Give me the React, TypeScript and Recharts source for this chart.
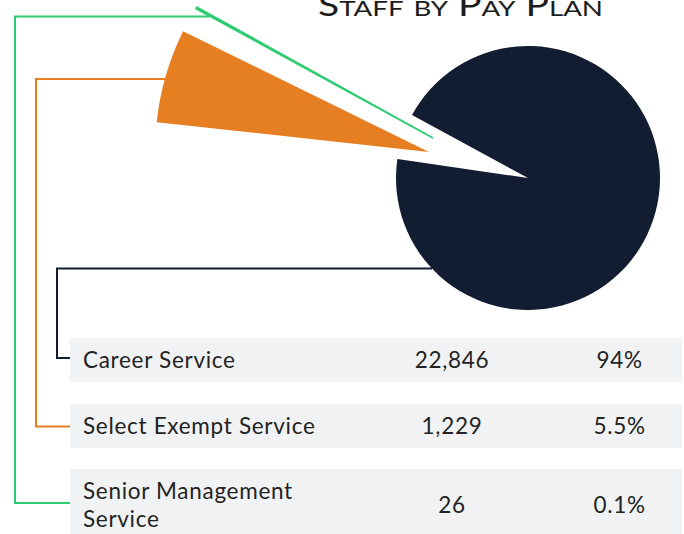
import React from "react";
import { PieChart, Pie, Cell } from "recharts";

// chart values
const planNames = ["Career Service", "Select Exempt Service", "Senior Management Service"];
const staffCounts = [22846, 1229, 26];
const staffShares = [94, 5.5, 0.1];
const shareLabels = ["94%", "5.5%", "0.1%"];
const planColors = ["#131d31", "#e67e22", "#2ecc71"];

const W = 684;
const H = 534;
const FONT = "Lato, 'Noto Sans', sans-serif";
const TEXT = "#232323";

// each slice gets its own pie (exploded pieces with their own radius)
const sliceLayout = [
  { cx: 528, cy: 178, r: 132, start: 151.5 },
  { cx: 429, cy: 152, r: 274, start: 153.5 },
  { cx: 433, cy: 138, r: 270, start: 151.0 },
];

// leader lines from slice to table row
const leaders = [
  { x: 57, fromX: 432, fromY: 268.5, rowY: 358 },
  { x: 36, fromX: 168, fromY: 79, rowY: 426.5 },
  { x: 15, fromX: 210, fromY: 16.5, rowY: 503 },
];

const rows = [
  { top: 337.5, height: 44.5 },
  { top: 403.5, height: 44.5 },
  { top: 468.5, height: 72 },
];

const pieData = planNames.map((name, i) => ({ name, share: staffShares[i] }));

const fmt = (n: number) => n.toLocaleString("en-US");

export default function App() {
  return (
    <div
      style={{
        position: "absolute",
        left: 0,
        top: 0,
        width: W,
        height: H,
        overflow: "hidden",
        background: "#fff",
        fontFamily: FONT,
      }}
    >
      <svg width={W} height={H} style={{ position: "absolute", left: 0, top: 0 }}>
        {leaders.map((l, i) => (
          <polyline
            key={i}
            points={`${l.fromX},${l.fromY} ${l.x},${l.fromY} ${l.x},${l.rowY} 71,${l.rowY}`}
            fill="none"
            stroke={planColors[i]}
            strokeWidth={2}
          />
        ))}
        <text
          x={318}
          y={16}
          textLength={285}
          lengthAdjust="spacingAndGlyphs"
          fontFamily={FONT}
          fontSize={31}
          fontWeight={400}
          fill="#1c1c1c"
          style={{ fontVariant: "small-caps" }}
        >
          Staff by Pay Plan
        </text>
      </svg>

      <div style={{ position: "absolute", left: 0, top: 0 }}>
        <PieChart width={W} height={H} margin={{ top: 0, right: 0, bottom: 0, left: 0 }}>
          {sliceLayout.map((s, idx) => (
            <Pie
              key={idx}
              data={pieData}
              dataKey="share"
              nameKey="name"
              cx={s.cx}
              cy={s.cy}
              outerRadius={s.r}
              startAngle={s.start}
              endAngle={s.start - 360}
              isAnimationActive={false}
              stroke="none"
            >
              {pieData.map((_, i) => (
                <Cell
                  key={i}
                  fill={i === idx ? planColors[i] : "transparent"}
                  stroke={i === idx && i === 2 ? planColors[i] : "none"}
                  strokeWidth={i === 2 ? 1.8 : 0}
                />
              ))}
            </Pie>
          ))}
        </PieChart>
      </div>

      {rows.map((r, i) => (
        <div
          key={i}
          style={{
            position: "absolute",
            left: 70,
            top: r.top,
            width: 612,
            height: r.height,
            background: "#f1f2f4",
            color: TEXT,
            fontSize: 22.5,
            letterSpacing: "0.7px",
            lineHeight: "28px",
          }}
        >
          <div
            style={{
              position: "absolute",
              left: 13,
              top: "50%",
              width: 250,
              transform: "translateY(-50%)",
            }}
          >
            {planNames[i]}
          </div>
          <div
            style={{
              position: "absolute",
              left: 382,
              top: "50%",
              transform: "translate(-50%, -50%)",
            }}
          >
            {fmt(staffCounts[i])}
          </div>
          <div
            style={{
              position: "absolute",
              left: 549.5,
              top: "50%",
              transform: "translate(-50%, -50%)",
            }}
          >
            {shareLabels[i]}
          </div>
        </div>
      ))}
    </div>
  );
}
